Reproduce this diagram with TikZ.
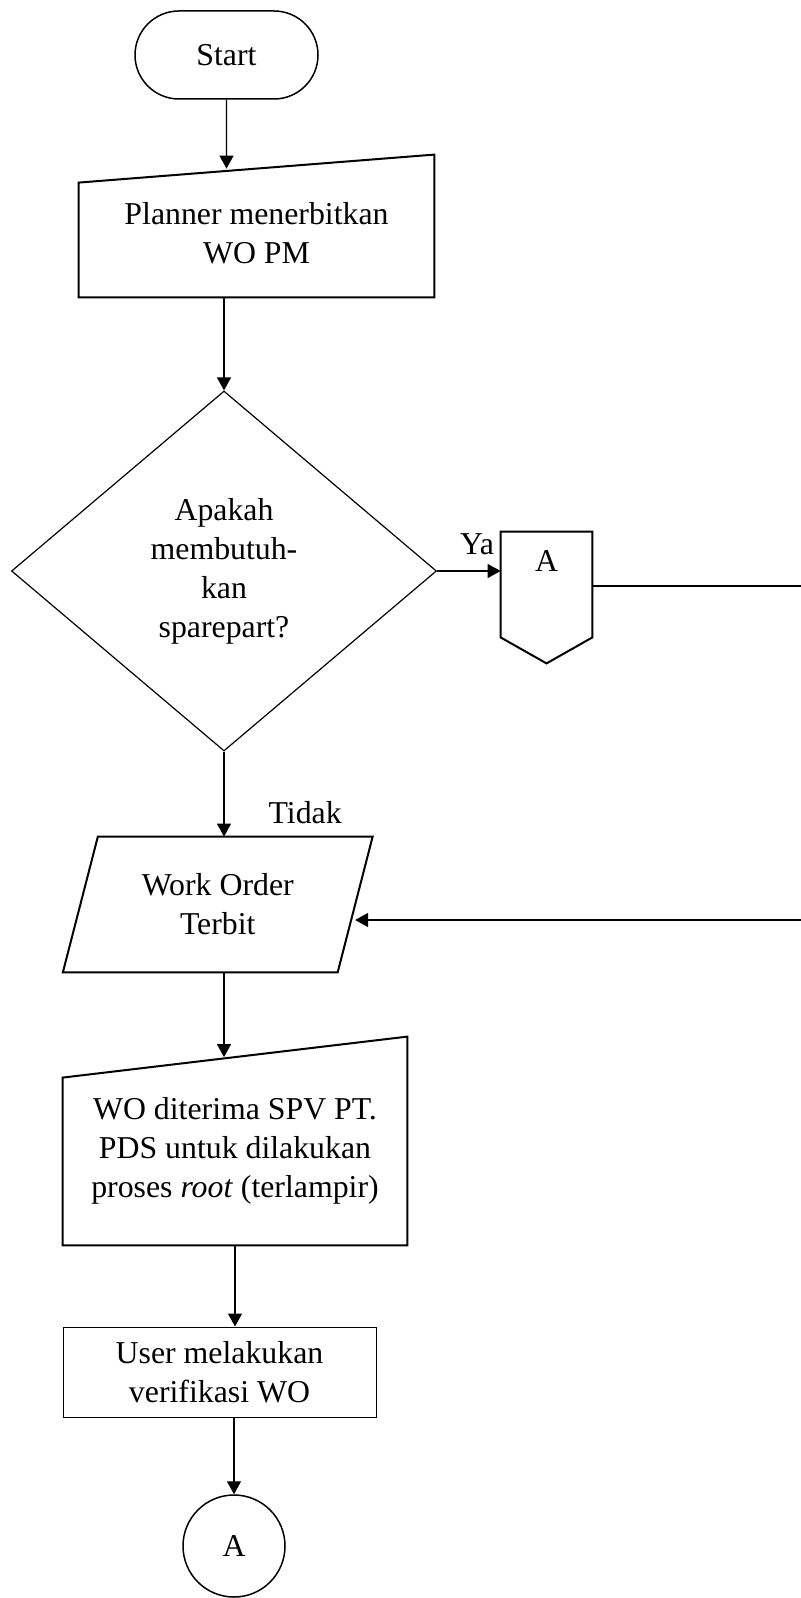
\documentclass[tikz,border=0pt]{standalone}
\usepackage{fontspec}
\setmainfont{Liberation Serif}
\usetikzlibrary{shapes.geometric, shapes.misc, arrows.meta, positioning}

\tikzset{
  flow/.style={font=\fontsize{15.9}{19.5}\selectfont, align=center, inner sep=0pt},
  box/.style={draw, line width=1pt},
  line/.style={line width=0.65pt},
  arrow/.style={line, -{Triangle[length=6.5pt, width=7pt]}}
}

\begin{document}
\begin{tikzpicture}[x=0.5pt, y=-0.5pt]
  \useasboundingbox (0,0) rectangle (800,1598);
  \node [flow, draw, line width=0.75pt, rounded rectangle, minimum width=91.5pt, minimum height=44pt] (start) at (226.5,55) {Start};
  \node [flow, minimum width=177.5pt, minimum height=64pt] (plan) at (256.5,233) {Planner menerbitkan\\WO PM};
  \draw [box] (plan.south west) -- (plan.south east) -- ([yshift=7pt]plan.north east) -- ([yshift=-7pt]plan.north west) -- cycle;
  \node [flow, draw, line width=0.6pt, diamond, minimum width=212.5pt, minimum height=180pt] (dec) at (224,571) {Apakah\\membutuh-\\kan\\sparepart?};
  \node [flow, minimum width=45.5pt, minimum height=29pt] (offA) at (546.5,561) {A};
  \draw [box] (offA.north west) -- (offA.north east) -- ([yshift=-23.5pt]offA.south east) -- ([yshift=-36.5pt]offA.south) -- ([yshift=-23.5pt]offA.south west) -- cycle;
  \node [flow, minimum width=137pt, minimum height=67.5pt] (wo) at (217.75,904.5) {Work Order\\Terbit};
  \draw [box] ([xshift=8.75pt]wo.north west) -- ([xshift=8.75pt]wo.north east) -- ([xshift=-8.75pt]wo.south east) -- ([xshift=-8.75pt]wo.south west) -- cycle;
  \node [flow, minimum width=172pt, minimum height=93.75pt] (recv) at (235,1151.25) {WO diterima SPV PT.\\PDS untuk dilakukan\\proses \textit{root} (terlampir)};
  \draw [box] (recv.south west) -- (recv.south east) -- ([yshift=10.25pt]recv.north east) -- ([yshift=-10.25pt]recv.north west) -- cycle;
  \node [flow, draw, line width=0.5pt, minimum width=156.5pt, minimum height=45pt] (user) at (219.5,1372) {User melakukan\\verifikasi WO};
  \node [flow, draw, line width=0.75pt, circle, minimum size=51pt] (endA) at (234,1546) {A};

  \coordinate (outA) at (810,586);
  \coordinate (inWO) at (810,920);

  \draw [arrow] (start) -- (start |- plan.north);
  \draw [arrow] (dec.north |- plan.south) -- (dec.north);
  \draw [arrow] (dec.east) -- node [flow, above=8pt, pos=0.63] {Ya} (offA.west |- dec.east);
  \draw [line] (offA.east |- outA) -- (outA);
  \draw [arrow] (dec.south) -- (dec.south |- wo.north) node [flow, above right=6pt and 22pt] {Tidak};
  \draw [arrow] (inWO) -- (inWO -| wo.east);
  \draw [arrow] (dec.south |- wo.south) -- (dec.south |- recv.north);
  \draw [arrow] (recv.south) -- (recv.south |- user.north);
  \draw [arrow] (endA.north |- user.south) -- (endA);
\end{tikzpicture}
\end{document}
